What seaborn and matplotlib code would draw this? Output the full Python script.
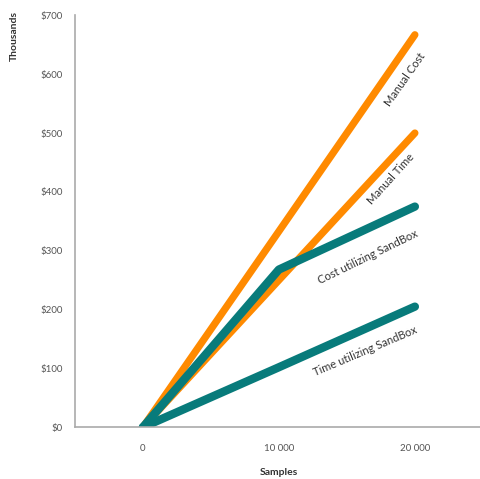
"""
Manual vs SandBox cost/time by sample count.
"""

import pandas as pd
import matplotlib.pyplot as plt
import seaborn as sns

samples = [0, 10000, 20000]
manual_cost = [0, 333, 667]
manual_time = [0, 250, 500]
cost_sandbox = [0, 268, 375]
time_sandbox = [0, 102, 205]

series_names = [
    "Manual Cost",
    "Manual Time",
    "Cost utilizing SandBox",
    "Time utilizing SandBox",
]
series_values = [manual_cost, manual_time, cost_sandbox, time_sandbox]

y_ticks = [0, 100, 200, 300, 400, 500, 600, 700]
x_ticks = [0, 10000, 20000]
x_tick_labels = ["0", "10 000", "20 000"]

ORANGE = "#ff8a00"
TEAL = "#087b7b"
colors = {
    "Manual Cost": ORANGE,
    "Manual Time": ORANGE,
    "Cost utilizing SandBox": TEAL,
    "Time utilizing SandBox": TEAL,
}
widths = {
    "Manual Cost": 5.2,
    "Manual Time": 5.2,
    "Cost utilizing SandBox": 6.0,
    "Time utilizing SandBox": 6.0,
}

# label offsets (points) from the line end, and rotation
label_style = {
    "Manual Cost": (-7, -32, 55),
    "Manual Time": (-17, -33, 48),
    "Cost utilizing SandBox": (-34, -36, 26),
    "Time utilizing SandBox": (-36, -32, 23),
}

df = pd.DataFrame(
    [
        {"Samples": s, "Value": v, "Series": name}
        for name, vals in zip(series_names, series_values)
        for s, v in zip(samples, vals)
    ]
)

sns.set_theme(style="white")
plt.rcParams["font.family"] = ["Lato", "DejaVu Sans"]

fig = plt.figure(figsize=(4.8, 4.79), dpi=100)
ax = fig.add_axes([0.156, 0.108, 0.85, 0.86])

for name in series_names:
    sub = df[df["Series"] == name]
    sns.lineplot(
        data=sub,
        x="Samples",
        y="Value",
        color=colors[name],
        linewidth=widths[name],
        solid_capstyle="round",
        solid_joinstyle="round",
        ax=ax,
        legend=False,
    )
    dx, dy, rot = label_style[name]
    ax.annotate(
        name,
        xy=(sub["Samples"].iloc[-1], sub["Value"].iloc[-1]),
        xytext=(dx, dy),
        textcoords="offset points",
        rotation=rot,
        rotation_mode="anchor",
        ha="center",
        va="center",
        fontsize=8,
        color="#333333",
    )

ax.set_xlim(-5000, 25000)
ax.set_ylim(0, 700)
ax.set_xticks(x_ticks)
ax.set_xticklabels(x_tick_labels)
ax.set_yticks(y_ticks)
ax.set_yticklabels([f"${v}" for v in y_ticks])
ax.tick_params(labelsize=7, colors="#555555", length=0)
ax.tick_params(axis="x", pad=12)
ax.tick_params(axis="y", pad=9)

sns.despine(ax=ax)
for side in ["left", "bottom"]:
    ax.spines[side].set_color("#aaaaaa")
    ax.spines[side].set_linewidth(1.2)

ax.set_xlabel("Samples", fontsize=7.5, fontweight="bold", color="#333333", labelpad=11)
ax.set_ylabel("")
fig.text(0.03, 0.978, "Thousands", rotation=90, ha="center", va="top",
         fontsize=7.5, fontweight="bold", color="#333333")

fig.savefig("out.png", dpi=100)
plt.close(fig)
